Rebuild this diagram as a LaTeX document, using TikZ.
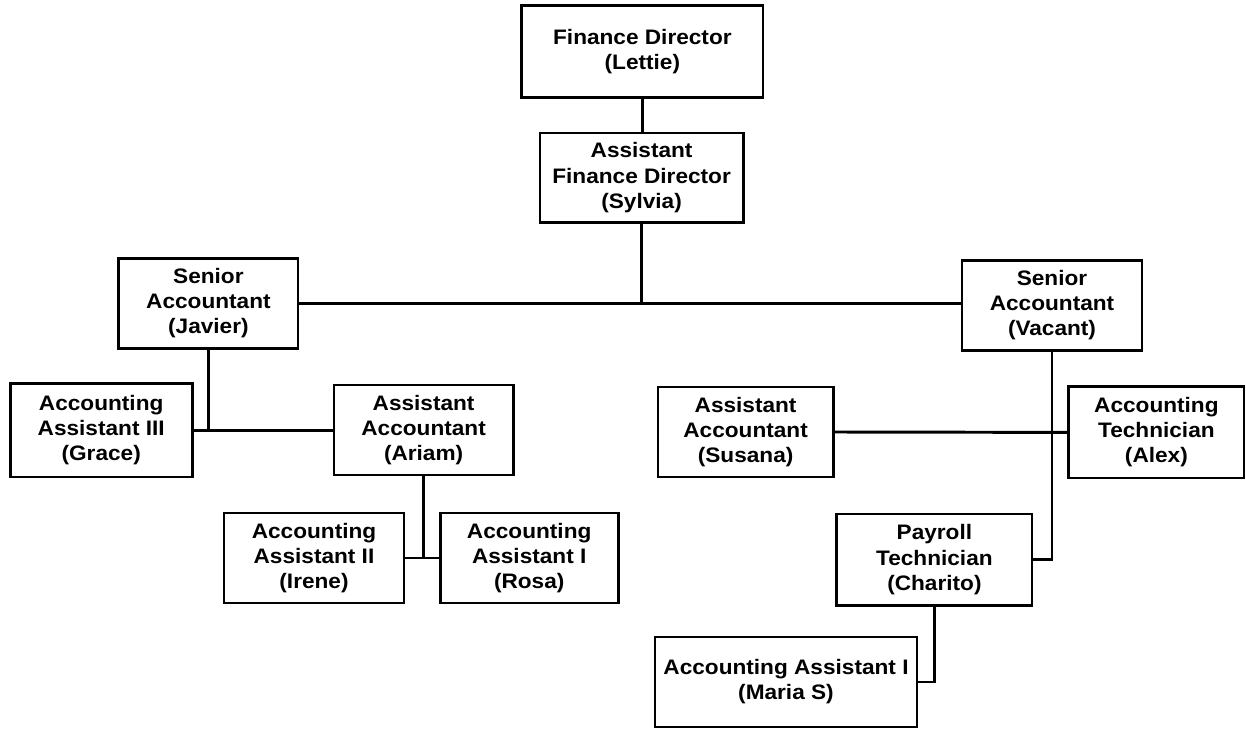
\documentclass[tikz,border=0pt]{standalone}
\usepackage{fontspec}
\setmainfont[FakeStretch=1.08]{Liberation Sans}
\usetikzlibrary{positioning}
\tikzset{
    post/.style={draw, line width=2.1pt, align=center, inner sep=0pt,
        font=\bfseries\fontsize{14.9pt}{17.8pt}\selectfont},
    link/.style={line width=2.1pt},
}

\begin{document}
\begin{tikzpicture}
\useasboundingbox (0,0) rectangle (31.15,-18.25);
% director level
\node[post, minimum width=6.03cm, minimum height=2.30cm] (lettie) at (16.06,-1.28) {Finance Director\\(Lettie)};
\node[post, minimum width=5.08cm, minimum height=2.23cm] (sylvia) at (16.04,-4.44) {Assistant\\Finance Director\\(Sylvia)};
% senior accountants
\node[post, minimum width=4.48cm, minimum height=2.25cm] (javier) at (5.21,-7.58) {Senior\\Accountant\\(Javier)};
\node[post, minimum width=4.50cm, minimum height=2.25cm] (vacant) at (26.30,-7.63) {Senior\\Accountant\\(Vacant)};
% third row
\node[post, minimum width=4.55cm, minimum height=2.33cm] (grace) at (2.53,-10.76) {Accounting\\Assistant III\\(Grace)};
\node[post, minimum width=4.48cm, minimum height=2.25cm] (ariam) at (10.59,-10.75) {Assistant\\Accountant\\(Ariam)};
\node[post, minimum width=4.38cm, minimum height=2.25cm] (susana) at (18.64,-10.80) {Assistant\\Accountant\\(Susana)};
\node[post, minimum width=4.38cm, minimum height=2.28cm] (alex) at (28.91,-10.81) {Accounting\\Technician\\(Alex)};
% fourth row
\node[post, minimum width=4.50cm, minimum height=2.25cm] (irene) at (7.85,-13.95) {Accounting\\Assistant II\\(Irene)};
\node[post, minimum width=4.45cm, minimum height=2.25cm] (rosa) at (13.23,-13.95) {Accounting\\Assistant I\\(Rosa)};
\node[post, minimum width=4.88cm, minimum height=2.28cm] (charito) at (23.36,-13.99) {Payroll\\Technician\\(Charito)};
\node[post, minimum width=6.55cm, minimum height=2.25cm] (maria) at (19.65,-17.05) {Accounting Assistant I\\(Maria S)};

% lines
\draw[link] (lettie.south) -- (lettie.south |- sylvia.north);
\draw[link] (sylvia.south) -- (sylvia.south |- javier.east);
\draw[link] (javier.east) -- (javier.east -| vacant.west);
\draw[link] (javier.south) |- (grace.east);
\draw[link] (grace.east) -- (grace.east -| ariam.west);
\draw[link] (ariam.south) |- (irene.east);
\draw[link] (irene.east) -- (rosa.west);
\draw[link] (susana.east) -- (alex.west);
\draw[link] (vacant.south) |- (charito.east);
\draw[link] (charito.south) |- (maria.east);
\end{tikzpicture}
\end{document}
